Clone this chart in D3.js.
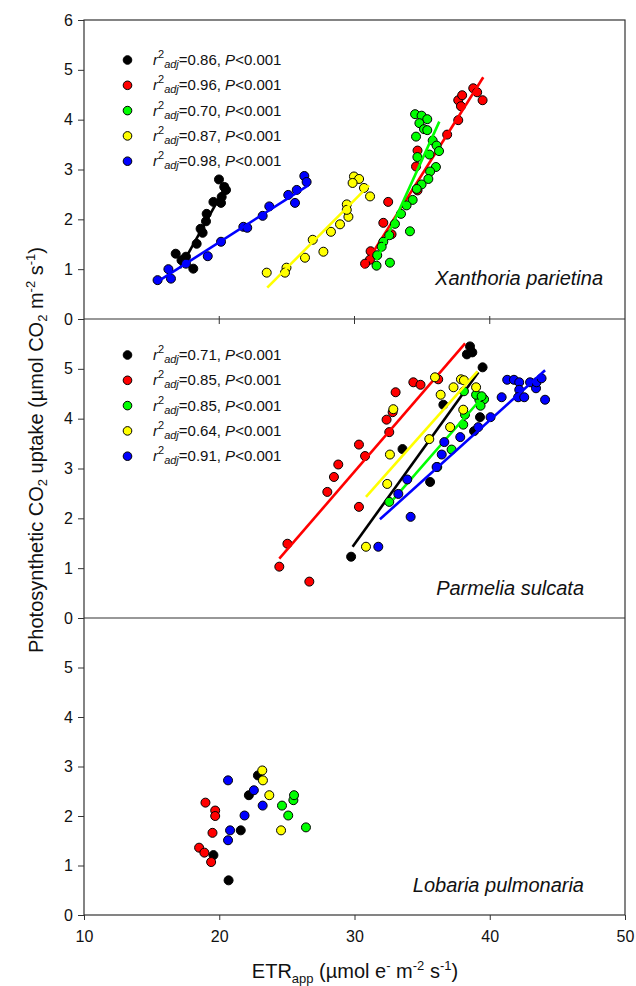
<!DOCTYPE html>
<html>
<head>
<meta charset="utf-8">
<script src="https://cdn.jsdelivr.net/npm/d3@7"></script>
<style>
  body { margin: 0; background: #fff; }
  text { font-family: Arial, "Liberation Sans", sans-serif; fill: #111; }
</style>
</head>
<body>
<div id="chart"></div>
<script>
// ---- data (ETRapp, CO2 uptake) ----
const seriesColors = ["#000000", "#ff0000", "#00ff00", "#ffff00", "#0000ff"];
const xTicks = [10, 20, 30, 40, 50];

// Xanthoria parietina
const xanBlack = [[19.98,2.80],[20.37,2.65],[20.50,2.59],[20.18,2.45],[19.57,2.35],[20.13,2.33],[19.07,2.11],[19.02,1.96],[18.62,1.81],[18.77,1.73],[18.33,1.51],[16.78,1.31],[17.54,1.25],[17.21,1.18],[18.08,1.01]];
const xanRed = [[38.78,4.63],[39.07,4.55],[39.47,4.39],[37.67,4.39],[37.96,4.49],[37.87,4.27],[37.67,3.99],[36.85,3.70],[34.66,3.38],[34.55,3.06],[34.66,2.58],[32.49,2.35],[32.13,1.93],[32.74,1.70],[31.19,1.36],[31.14,1.19],[30.78,1.11]];
const xanGreen = [[34.48,4.11],[34.96,4.08],[35.38,4.01],[34.80,3.93],[35.14,3.81],[35.38,3.79],[34.55,3.66],[35.78,3.58],[36.07,3.48],[36.25,3.37],[34.65,3.25],[35.54,3.30],[36.02,3.05],[35.59,2.96],[35.46,2.81],[34.96,2.70],[34.60,2.61],[34.30,2.39],[33.85,2.28],[33.44,2.11],[32.99,1.91],[32.57,1.68],[34.10,1.76],[32.13,1.55],[32.01,1.45],[31.68,1.28],[31.63,1.07],[32.62,1.13]];
const xanYellow = [[23.51,0.93],[24.97,1.03],[24.86,0.93],[26.34,1.23],[26.91,1.59],[27.70,1.35],[28.26,1.75],[28.93,1.90],[29.55,2.05],[29.43,2.30],[29.43,2.19],[29.96,2.86],[30.34,2.81],[29.86,2.73],[30.70,2.63],[31.15,2.46]];
const xanBlue = [[15.44,0.78],[16.24,1.00],[16.43,0.81],[17.54,1.11],[19.15,1.26],[20.13,1.55],[21.78,1.85],[22.07,1.83],[23.21,2.07],[23.70,2.26],[25.10,2.49],[25.60,2.33],[25.73,2.59],[26.29,2.87],[26.46,2.75]];
// regression lines: [x0, y0, x1, y1], same colour order
const xanFits = [[17.1,1.02,20.6,2.72],[30.63,1.02,39.52,4.85],[31.63,1.18,36.27,3.96],[23.55,0.63,31.08,2.68],[15.44,0.75,26.58,2.68]];
const xanR2 = ["0.86", "0.96", "0.70", "0.87", "0.98"];

// Parmelia sulcata
const parBlack = [[29.75,1.23],[33.55,3.39],[35.59,2.73],[36.57,4.28],[39.28,4.03],[38.84,3.75],[39.47,5.03],[38.54,5.45],[38.31,5.29],[38.71,5.33]];
const parRed = [[24.44,1.03],[25.04,1.49],[26.66,0.73],[27.99,2.53],[28.48,2.83],[28.80,3.08],[30.33,3.48],[30.78,3.25],[30.33,2.23],[32.37,3.98],[32.57,3.73],[32.82,4.13],[33.04,4.53],[34.35,4.73],[34.88,4.68],[36.19,4.79]];
const parGreen = [[32.57,2.33],[37.18,3.38],[36.12,3.03],[38.04,3.88],[38.17,4.08],[39.23,4.38],[39.58,4.39],[38.99,4.48],[39.40,4.45],[39.32,4.26],[38.09,4.55]];
const parYellow = [[30.85,1.43],[32.42,2.69],[32.62,3.28],[32.87,4.19],[35.53,3.59],[36.37,4.48],[37.07,3.83],[37.32,4.63],[35.95,4.83],[37.87,4.79],[38.09,4.77],[38.04,4.18],[38.99,4.63]];
const parBlue = [[31.76,1.43],[34.15,2.03],[33.24,2.49],[33.90,2.78],[36.07,3.03],[36.45,3.28],[36.64,3.53],[37.82,3.63],[39.15,3.83],[40.06,4.03],[40.88,4.43],[41.29,4.78],[41.79,4.78],[42.18,4.73],[42.18,4.58],[42.10,4.43],[42.55,4.43],[42.98,4.73],[43.42,4.61],[43.46,4.73],[43.83,4.81],[44.09,4.38]];
const parFits = [[29.86,1.43,39.16,4.93],[24.44,1.19,38.18,5.51],[32.87,2.38,39.52,4.45],[30.85,2.43,39.09,4.95],[31.88,1.98,44.09,4.97]];
const parR2 = ["0.71", "0.85", "0.85", "0.64", "0.91"];

// Lobaria pulmonaria (no fits)
const lobBlack = [[19.57,1.21],[20.69,0.70],[21.59,1.71],[22.19,2.42],[22.86,2.82]];
const lobRed = [[18.98,2.27],[19.70,2.11],[19.70,2.00],[19.50,1.66],[18.51,1.36],[18.90,1.26],[19.40,1.07]];
const lobGreen = [[24.64,2.21],[25.10,2.01],[25.48,2.32],[25.53,2.42],[26.41,1.77]];
const lobYellow = [[23.18,2.92],[23.23,2.72],[23.70,2.42],[24.57,1.71]];
const lobBlue = [[20.65,2.72],[20.80,1.71],[20.65,1.51],[21.87,2.01],[22.56,2.52],[23.21,2.21]];

// ---- layout ----
const width = 636, height = 986;
const left = 84, right = 625;
const fontStack = "Arial, 'Liberation Sans', sans-serif";

const svg = d3.select("#chart").append("svg")
  .attr("width", width)
  .attr("height", height);

const x = d3.scaleLinear().domain([10, 50]).range([left, right]);

const panels = [
  { name: "Xanthoria parietina", top: 20, bottom: 319,
    series: [xanBlack, xanRed, xanGreen, xanYellow, xanBlue], fits: xanFits, r2: xanR2,
    yTicks: [0, 1, 2, 3, 4, 5, 6], labelX: 603, labelY: 285, legendY: 60 },
  { name: "Parmelia sulcata", top: 319, bottom: 618,
    series: [parBlack, parRed, parGreen, parYellow, parBlue], fits: parFits, r2: parR2,
    yTicks: [0, 1, 2, 3, 4, 5], labelX: 584, labelY: 595, legendY: 355 },
  { name: "Lobaria pulmonaria", top: 618, bottom: 915,
    series: [lobBlack, lobRed, lobGreen, lobYellow, lobBlue], fits: [], r2: null,
    yTicks: [0, 1, 2, 3, 4, 5], labelX: 584, labelY: 892, legendY: null }
];

// rich text helper: parts = [text, {it, shift, size}]
function rich(t, parts, fs) {
  let off = 0;
  parts.forEach(p => {
    const o = p[1] || {};
    const shift = o.shift || 0;
    t.append("tspan")
      .attr("dy", shift - off)
      .style("font-size", (o.size || fs) + "px")
      .style("font-style", o.it ? "italic" : "normal")
      .text(p[0]);
    off = shift;
  });
}

panels.forEach(p => {
  const y = d3.scaleLinear().domain([0, 6]).range([p.bottom, p.top]);
  const g = svg.append("g");

  // y axis
  const ax = g.append("g")
    .attr("transform", `translate(${left},0)`)
    .call(d3.axisLeft(y).tickValues(p.yTicks).tickFormat(d3.format("d")).tickSize(6).tickPadding(5));
  ax.select(".domain").remove();
  ax.selectAll("line").attr("stroke", "#333");
  ax.selectAll("text").style("font-size", "16px").attr("fill", "#111").style("font-family", fontStack);

  // points and fitted lines
  p.series.forEach((pts, i) => {
    g.append("g").selectAll("circle")
      .data(pts).enter()
      .append("circle")
      .attr("cx", d => x(d[0]))
      .attr("cy", d => y(d[1]))
      .attr("r", 4.5)
      .attr("fill", seriesColors[i])
      .attr("stroke", "#000")
      .attr("stroke-width", 1);

    const f = p.fits[i];
    if (f) {
      g.append("line")
        .attr("x1", x(f[0])).attr("y1", y(f[1]))
        .attr("x2", x(f[2])).attr("y2", y(f[3]))
        .attr("stroke", seriesColors[i])
        .attr("stroke-width", 2.6);
    }
  });

  // legend
  if (p.r2) {
    p.r2.forEach((r, i) => {
      const ly = p.legendY + i * 25.3;
      g.append("circle")
        .attr("cx", 127.5).attr("cy", ly).attr("r", 4.3)
        .attr("fill", seriesColors[i]).attr("stroke", "#000");
      const t = g.append("text").attr("x", 153).attr("y", ly + 5).style("font-size", "15px");
      rich(t, [
        ["r", { it: true }],
        ["2", { shift: -7, size: 11 }],
        ["adj", { it: true, shift: 3, size: 11 }],
        ["=" + r + ", "],
        ["P", { it: true }],
        ["<0.001"]
      ], 15);
    });
  }

  // species name
  g.append("text")
    .attr("x", p.labelX).attr("y", p.labelY)
    .attr("text-anchor", "end")
    .style("font-size", "20px")
    .style("font-style", "italic")
    .text(p.name);
});

// frame and panel dividers
svg.append("rect")
  .attr("x", left).attr("y", 20)
  .attr("width", right - left).attr("height", 915 - 20)
  .attr("fill", "none").attr("stroke", "#333").attr("stroke-width", 1.2);
[319, 618].forEach(yy => {
  svg.append("line")
    .attr("x1", left).attr("x2", right).attr("y1", yy).attr("y2", yy)
    .attr("stroke", "#333").attr("stroke-width", 1.2);
});

// small x ticks on the top panel's lower edge
svg.append("g").selectAll("line")
  .data(xTicks.slice(1, -1)).enter()
  .append("line")
  .attr("x1", d => x(d)).attr("x2", d => x(d))
  .attr("y1", 316).attr("y2", 324)
  .attr("stroke", "#333");

// bottom x axis
const xa = svg.append("g")
  .attr("transform", "translate(0,915)")
  .call(d3.axisBottom(x).tickValues(xTicks).tickSize(5).tickPadding(11));
xa.select(".domain").remove();
xa.selectAll("line").attr("stroke", "#333");
xa.selectAll("text").style("font-size", "16px").attr("fill", "#111").style("font-family", fontStack);

// axis titles
const yt = svg.append("text")
  .attr("transform", "translate(43,450) rotate(-90)")
  .attr("text-anchor", "middle")
  .style("font-size", "20px");
rich(yt, [
  ["Photosynthetic CO"],
  ["2", { shift: 4, size: 13 }],
  [" uptake (µmol CO"],
  ["2", { shift: 4, size: 13 }],
  [" m"],
  ["-2", { shift: -8, size: 13 }],
  [" s"],
  ["-1", { shift: -8, size: 13 }],
  [")"]
], 20);

const xt = svg.append("text")
  .attr("x", 355).attr("y", 978)
  .attr("text-anchor", "middle")
  .style("font-size", "20px");
rich(xt, [
  ["ETR"],
  ["app", { shift: 5, size: 13 }],
  [" (µmol e"],
  ["-", { shift: -8, size: 13 }],
  [" m"],
  ["-2", { shift: -8, size: 13 }],
  [" s"],
  ["-1", { shift: -8, size: 13 }],
  [")"]
], 20);
</script>
</body>
</html>
